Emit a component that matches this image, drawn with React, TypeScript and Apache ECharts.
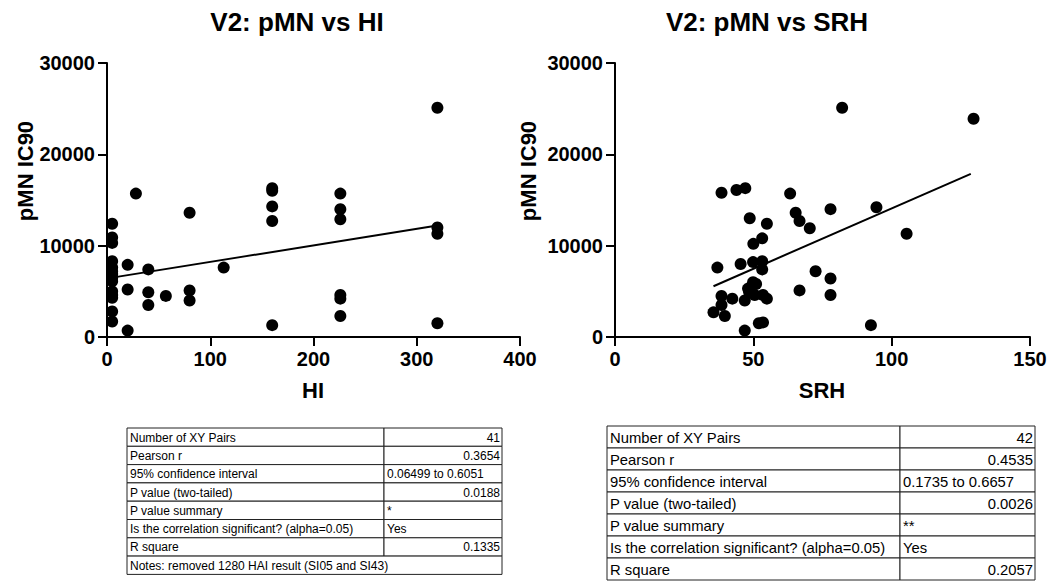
import React, { useEffect, useRef } from "react";
import * as echarts from "echarts";

// ---- data ----
const hiValues = [
  5, 5, 5, 5, 5, 5, 5, 5, 5, 5, 5, 5, 5, 5,
  20, 20, 20,
  28,
  40, 40, 40,
  57,
  80, 80, 80,
  113,
  160, 160, 160, 160, 160,
  226, 226, 226, 226, 226, 226,
  320, 320, 320, 320,
];
const pmnForHI = [
  12400, 10900, 10300, 8300, 7600, 7200, 6900, 6500, 6100, 4600, 4300, 2800, 1700, 5000,
  7900, 5200, 700,
  15700,
  7400, 4900, 3500,
  4500,
  13600, 5100, 4000,
  7600,
  16300, 16000, 14300, 12700, 1300,
  15700, 14000, 12900, 4600, 4200, 2300,
  25100, 12000, 11300, 1500,
];
const hiFitX = [5, 320];
const hiFitY = [6500, 12200];

const srhValues = [
  82.1, 129.6, 38.5, 43.9, 47.1, 63.3, 77.9, 94.5, 65.3, 66.7,
  70.4, 48.7, 54.9, 53.2, 50.0, 105.4, 37.0, 45.4, 49.9, 53.2,
  53.2, 72.5, 77.9, 49.9, 48.1, 66.7, 77.9, 38.5, 42.4, 46.9,
  50.5, 53.5, 54.9, 38.5, 35.6, 39.7, 52.0, 53.5, 46.9, 92.5,
  51.0, 48.5,
];
const pmnForSRH = [
  25100, 23900, 15800, 16100, 16300, 15700, 14000, 14200, 13600, 12700,
  11900, 13000, 12400, 10800, 10200, 11300, 7600, 8000, 8200, 8300,
  7400, 7200, 6400, 6000, 5300, 5100, 4600, 4500, 4200, 4000,
  4600, 4600, 4200, 3500, 2700, 2300, 1500, 1600, 700, 1300,
  5800, 4900,
];
const srhFitX = [35.6, 128.6];
const srhFitY = [5560, 17860];

const yTicks = [0, 10000, 20000, 30000];
const hiTicks = [0, 100, 200, 300, 400];
const srhTicks = [0, 50, 100, 150];

const titles = ["V2: pMN vs HI", "V2: pMN vs SRH"];
const xNames = ["HI", "SRH"];
const yName = "pMN IC90";

const tableLabels = [
  "Number of XY Pairs",
  "Pearson r",
  "95% confidence interval",
  "P value (two-tailed)",
  "P value summary",
  "Is the correlation significant? (alpha=0.05)",
  "R square",
];
const hiTableValues = ["41", "0.3654", "0.06499 to 0.6051", "0.0188", "*", "Yes", "0.1335"];
const srhTableValues = ["42", "0.4535", "0.1735 to 0.6657", "0.0026", "**", "Yes", "0.2057"];
const valueRightAligned = [true, true, false, true, false, false, true];
const hiNote = "Notes: removed 1280 HAI result (SI05 and SI43)";

const FONT = "'Liberation Sans', Arial, Helvetica, sans-serif";

function pairs(xs: number[], ys: number[]) {
  return xs.map((x, i) => [x, ys[i]]);
}

function txt(x: number, y: number, text: string, font: string, align = "left", rotation = 0) {
  return {
    type: "text",
    x,
    y,
    rotation,
    silent: true,
    style: {
      text,
      font,
      fill: "#000",
      align,
      textAlign: align,
      verticalAlign: "middle",
      textVerticalAlign: "middle",
    },
  };
}

function buildTable(
  x0: number,
  y0: number,
  w1: number,
  w2: number,
  rowH: number,
  labels: string[],
  values: string[],
  fontSize: number,
  note?: string
) {
  const els: any[] = [];
  const font = `${fontSize}px ${FONT}`;
  const stroke = { stroke: "#222", lineWidth: 1, fill: "#fff" };
  labels.forEach((lab, i) => {
    const y = y0 + i * rowH;
    els.push({ type: "rect", shape: { x: x0, y, width: w1, height: rowH }, style: { ...stroke }, silent: true });
    els.push({ type: "rect", shape: { x: x0 + w1, y, width: w2, height: rowH }, style: { ...stroke }, silent: true });
    els.push(txt(x0 + 3, y + rowH / 2 + 0.5, lab, font, "left"));
    const right = valueRightAligned[i];
    els.push(
      txt(right ? x0 + w1 + w2 - 2 : x0 + w1 + 3, y + rowH / 2 + 0.5, values[i], font, right ? "right" : "left")
    );
  });
  if (note) {
    const y = y0 + labels.length * rowH;
    els.push({ type: "rect", shape: { x: x0, y, width: w1 + w2, height: rowH }, style: { ...stroke }, silent: true });
    els.push(txt(x0 + 3, y + rowH / 2 + 0.5, note, font, "left"));
  }
  return els;
}

function axisCommon() {
  return {
    type: "value",
    axisLine: { show: true, onZero: false, lineStyle: { color: "#000", width: 2 } },
    axisTick: { show: true, length: 9, inside: false, lineStyle: { color: "#000", width: 2 } },
    axisLabel: {
      color: "#000",
      fontSize: 20,
      fontWeight: "bold",
      fontFamily: FONT,
      margin: 12,
      formatter: (v: number) => String(v),
    },
    splitLine: { show: false },
  };
}

export default function App() {
  const ref = useRef<HTMLDivElement>(null);
  useEffect(() => {
    if (!ref.current) return;
    const chart = echarts.init(ref.current, undefined, { renderer: "svg" });
    const grids = [
      { left: 107, top: 63, width: 413, height: 274 },
      { left: 615, top: 63, width: 415, height: 274 },
    ];
    const titleFont = `bold 26px ${FONT}`;
    const nameFont = `bold 22px ${FONT}`;
    const graphic: any[] = [
      txt(297, 22, titles[0], titleFont, "center"),
      txt(767, 22, titles[1], titleFont, "center"),
      txt(313, 390, xNames[0], nameFont, "center"),
      txt(822, 390, xNames[1], nameFont, "center"),
      txt(25, 171, yName, nameFont, "center", Math.PI / 2),
      txt(528, 171, yName, nameFont, "center", Math.PI / 2),
      ...buildTable(127, 428, 257, 118, 18.3, tableLabels, hiTableValues, 12, hiNote),
      ...buildTable(607, 426, 293, 135, 22, tableLabels, srhTableValues, 14.8),
    ];
    const dot = { color: "#000", opacity: 1 };
    chart.setOption({
      animation: false,
      backgroundColor: "#fff",
      grid: grids,
      xAxis: [
        { ...axisCommon(), gridIndex: 0, min: hiTicks[0], max: hiTicks[hiTicks.length - 1], interval: 100 },
        { ...axisCommon(), gridIndex: 1, min: srhTicks[0], max: srhTicks[srhTicks.length - 1], interval: 50 },
      ],
      yAxis: [
        { ...axisCommon(), gridIndex: 0, min: yTicks[0], max: yTicks[yTicks.length - 1], interval: 10000 },
        { ...axisCommon(), gridIndex: 1, min: yTicks[0], max: yTicks[yTicks.length - 1], interval: 10000 },
      ],
      series: [
        {
          type: "scatter",
          xAxisIndex: 0,
          yAxisIndex: 0,
          data: pairs(hiValues, pmnForHI),
          symbolSize: 12,
          itemStyle: dot,
          z: 3,
        },
        {
          type: "line",
          xAxisIndex: 0,
          yAxisIndex: 0,
          data: pairs(hiFitX, hiFitY),
          showSymbol: false,
          symbol: "none",
          lineStyle: { color: "#000", width: 2 },
          z: 2,
        },
        {
          type: "scatter",
          xAxisIndex: 1,
          yAxisIndex: 1,
          data: pairs(srhValues, pmnForSRH),
          symbolSize: 12,
          itemStyle: dot,
          z: 3,
        },
        {
          type: "line",
          xAxisIndex: 1,
          yAxisIndex: 1,
          data: pairs(srhFitX, srhFitY),
          showSymbol: false,
          symbol: "none",
          lineStyle: { color: "#000", width: 2 },
          z: 2,
        },
      ],
      graphic,
    });
    return () => chart.dispose();
  }, []);
  return (
    <div
      ref={ref}
      style={{ position: "fixed", left: 0, top: 0, width: 1050, height: 583, background: "#fff" }}
    />
  );
}
